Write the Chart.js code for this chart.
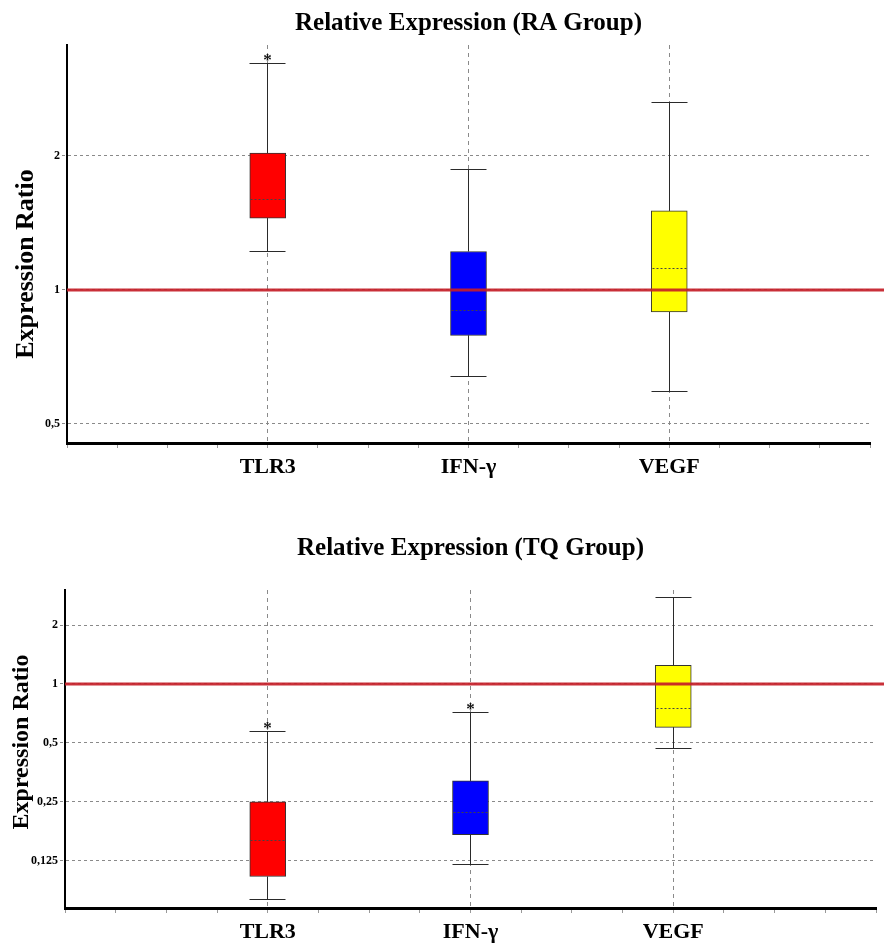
<!DOCTYPE html>
<html>
<head>
<meta charset="utf-8">
<script src="https://cdn.jsdelivr.net/npm/chart.js@4.4.1/dist/chart.umd.min.js"></script>
<style>
  html, body { margin: 0; padding: 0; background: #ffffff; }
  .wrap { position: absolute; left: 0; width: 884px; }
  #w1 { top: 0; height: 500px; }
  #w2 { top: 500px; height: 443px; }
</style>
</head>
<body>
<div class="wrap" id="w1"><canvas id="c1" width="884" height="500"></canvas></div>
<div class="wrap" id="w2"><canvas id="c2" width="884" height="443"></canvas></div>
<script>
// ---------- data ----------
const CATEGORIES = ['TLR3', 'IFN-γ', 'VEGF'];
const CATEGORY_POSITIONS = [4, 8, 12];

const RA_WHISKER_LOW  = [1.22, 0.638, 0.59];
const RA_Q1           = [1.45, 0.79, 0.892];
const RA_MEDIAN       = [1.60, 0.90, 1.115];
const RA_Q3           = [2.03, 1.22, 1.505];
const RA_WHISKER_HIGH = [3.22, 1.86, 2.63];
const RA_SIGNIFICANT  = [true, false, false];
const RA_TICKS        = [0.5, 1, 2];

const TQ_WHISKER_LOW  = [0.079, 0.12, 0.466];
const TQ_Q1           = [0.104, 0.170, 0.601];
const TQ_MEDIAN       = [0.158, 0.221, 0.748];
const TQ_Q3           = [0.25, 0.320, 1.246];
const TQ_WHISKER_HIGH = [0.574, 0.714, 2.75];
const TQ_SIGNIFICANT  = [true, true, false];
const TQ_TICKS        = [0.125, 0.25, 0.5, 1, 2];

const REFERENCE_RATIO = 1;
const Y_TITLE = 'Expression Ratio';

// ---------- styles ----------
const BOX_COLORS = ['#ff0000', '#0000ff', '#ffff00'];
const SERIF = '"Liberation Serif", "Times New Roman", serif';

function fmt(v) { return String(v).replace('.', ','); }
function align(px) { return Math.round(px - 0.5) + 0.5; }

const boxPlugin = {
  id: 'boxExtras',
  afterDatasetsDraw(chart) {
    const o = chart.options.plugins.boxExtras;
    const xs = chart.scales.x, ys = chart.scales.y;
    const ctx = chart.ctx;
    const half = 18;
    ctx.save();
    o.positions.forEach((p, i) => {
      const x = align(xs.getPixelForValue(p));
      const yLow = align(ys.getPixelForValue(o.low[i]));
      const yQ1 = ys.getPixelForValue(o.q1[i]);
      const yMed = align(ys.getPixelForValue(o.median[i]));
      const yQ3 = ys.getPixelForValue(o.q3[i]);
      const yHigh = align(ys.getPixelForValue(o.high[i]));
      ctx.strokeStyle = '#2a2a2a';
      ctx.lineWidth = 1;
      ctx.setLineDash([]);
      ctx.beginPath();
      ctx.moveTo(x, yLow); ctx.lineTo(x, yQ1);
      ctx.moveTo(x, yQ3); ctx.lineTo(x, yHigh);
      ctx.moveTo(x - half, yLow); ctx.lineTo(x + half, yLow);
      ctx.moveTo(x - half, yHigh); ctx.lineTo(x + half, yHigh);
      ctx.stroke();
      // median dashed
      ctx.strokeStyle = '#444';
      ctx.setLineDash([2, 2]);
      ctx.beginPath();
      ctx.moveTo(x - half + 1, yMed);
      ctx.lineTo(x + half - 1, yMed);
      ctx.stroke();
      ctx.setLineDash([]);
      if (o.significant[i]) {
        ctx.fillStyle = '#111';
        ctx.font = 'bold 17px ' + SERIF;
        ctx.textAlign = 'center';
        ctx.textBaseline = 'alphabetic';
        ctx.fillText('*', x, yHigh + 1);
      }
    });
    // reference line
    const yr = ys.getPixelForValue(o.reference);
    ctx.strokeStyle = 'rgba(196,30,40,0.92)';
    ctx.lineWidth = 3;
    ctx.beginPath();
    ctx.moveTo(chart.chartArea.left, yr);
    ctx.lineTo(chart.width, yr);
    ctx.stroke();
    // y axis title
    ctx.save();
    ctx.translate(o.yTitleX, o.yTitleY);
    ctx.rotate(-Math.PI / 2);
    ctx.fillStyle = '#000';
    ctx.font = 'bold ' + o.yTitleSize + 'px ' + SERIF;
    ctx.textAlign = 'center';
    ctx.textBaseline = 'middle';
    ctx.fillText(Y_TITLE, 0, 0);
    ctx.restore();
    ctx.restore();
  }
};

function makeChart(canvasId, cfg) {
  const data = CATEGORY_POSITIONS.map((p, i) => ({ x: p, y: [cfg.q1[i], cfg.q3[i]] }));
  return new Chart(document.getElementById(canvasId), {
    type: 'bar',
    data: {
      datasets: [{
        data: data,
        backgroundColor: BOX_COLORS,
        borderColor: '#333',
        borderWidth: 1,
        borderSkipped: false,
        barThickness: 36,
        grouped: false
      }]
    },
    plugins: [boxPlugin],
    options: {
      responsive: false,
      animation: false,
      layout: { padding: { left: 0, right: cfg.padRight, top: 0, bottom: 0 } },
      plugins: {
        legend: { display: false },
        tooltip: { enabled: false },
        title: {
          display: true,
          text: cfg.title,
          fullSize: false,
          color: '#000',
          font: { family: SERIF, size: 25, weight: 'bold', lineHeight: 1.2 },
          padding: { top: cfg.titleTop, bottom: cfg.titleBottom }
        },
        boxExtras: {
          positions: CATEGORY_POSITIONS,
          low: cfg.low, q1: cfg.q1, median: cfg.median, q3: cfg.q3, high: cfg.high,
          significant: cfg.significant,
          reference: REFERENCE_RATIO,
          yTitleX: cfg.yTitleX, yTitleY: cfg.yTitleY, yTitleSize: cfg.yTitleSize
        }
      },
      scales: {
        x: {
          type: 'linear',
          min: 0, max: 16,
          offset: false,
          afterFit(s) { s.height = cfg.xHeight; },
          ticks: {
            stepSize: 1,
            autoSkip: false,
            maxRotation: 0,
            padding: 6,
            color: '#000',
            font: { family: SERIF, size: 22, weight: 'bold' },
            callback(v) {
              const i = CATEGORY_POSITIONS.indexOf(v);
              return i >= 0 ? CATEGORIES[i] : '';
            }
          },
          grid: {
            offset: false,
            drawOnChartArea: true,
            drawTicks: true,
            tickLength: 5,
            color(ctx) {
              return (ctx.tick && CATEGORY_POSITIONS.includes(ctx.tick.value)) ? '#8a8a8a' : 'rgba(0,0,0,0)';
            },
            tickColor: '#999',
            lineWidth: 1,
            tickBorderDash: [],
            tickWidth: 1
          },
          border: { display: true, color: '#000', width: 3, dash: [4, 4] }
        },
        y: {
          type: 'logarithmic',
          min: cfg.yMin, max: cfg.yMax,
          afterFit(s) { s.width = cfg.yWidth; },
          afterBuildTicks(s) { s.ticks = cfg.ticks.map(v => ({ value: v })); },
          title: { display: false },
          ticks: {
            color: '#000',
            padding: 2,
            font: { family: SERIF, size: 12, weight: 'bold' },
            callback(v) { return fmt(v); }
          },
          grid: {
            color: '#8a8a8a',
            drawTicks: true,
            tickLength: 5,
            tickBorderDash: [3, 3],
            tickColor: '#8a8a8a'
          },
          border: { display: true, color: '#000', width: 2, dash: [3, 3] }
        }
      }
    }
  });
}

makeChart('c1', {
  title: 'Relative Expression (RA Group)',
  low: RA_WHISKER_LOW, q1: RA_Q1, median: RA_MEDIAN, q3: RA_Q3, high: RA_WHISKER_HIGH,
  significant: RA_SIGNIFICANT, ticks: RA_TICKS,
  yMin: 0.453, yMax: 3.55,
  yWidth: 67, xHeight: 57, padRight: 14, titleTop: 9, titleBottom: 6,
  yTitleX: 26, yTitleY: 264, yTitleSize: 26
});

makeChart('c2', {
  title: 'Relative Expression (TQ Group)',
  low: TQ_WHISKER_LOW, q1: TQ_Q1, median: TQ_MEDIAN, q3: TQ_Q3, high: TQ_WHISKER_HIGH,
  significant: TQ_SIGNIFICANT, ticks: TQ_TICKS,
  yMin: 0.0718, yMax: 3.02,
  yWidth: 65, xHeight: 35, padRight: 8, titleTop: 34, titleBottom: 26,
  yTitleX: 22, yTitleY: 242, yTitleSize: 24
});
</script>
</body>
</html>
